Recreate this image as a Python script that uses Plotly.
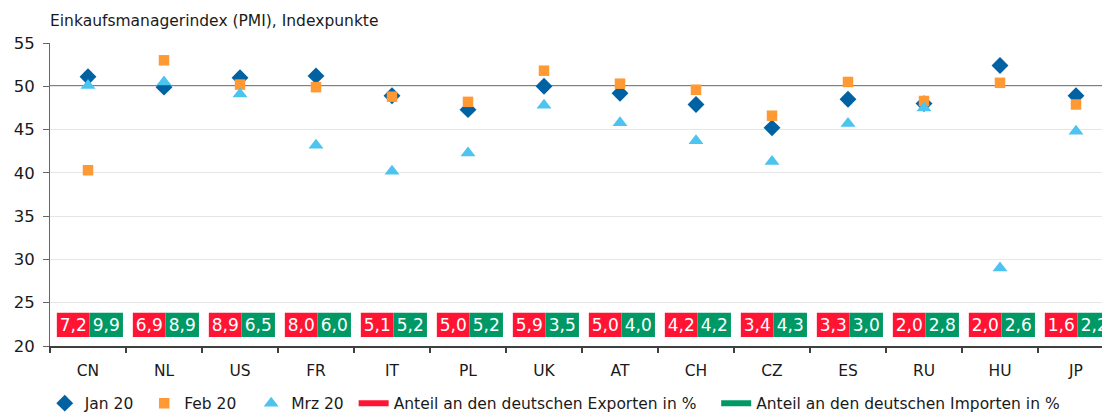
import plotly.graph_objects as go

# ---------------- data ----------------
countries = ["CN", "NL", "US", "FR", "IT", "PL", "UK", "AT", "CH", "CZ", "ES", "RU", "HU", "JP"]
pmi_jan = [51.1, 49.9, 51.0, 51.2, 48.9, 47.3, 50.0, 49.2, 47.9, 45.2, 48.5, 48.0, 52.4, 48.9]
pmi_feb = [40.3, 53.0, 50.2, 49.9, 48.8, 48.2, 51.8, 50.3, 49.6, 46.6, 50.5, 48.3, 50.4, 47.9]
pmi_mrz = [50.1, 50.5, 49.1, 43.2, 40.2, 42.3, 47.8, 45.8, 43.7, 41.3, 45.7, 47.5, 29.0, 44.8]
export_share = [7.2, 6.9, 8.9, 8.0, 5.1, 5.0, 5.9, 5.0, 4.2, 3.4, 3.3, 2.0, 2.0, 1.6]
import_share = [9.9, 8.9, 6.5, 6.0, 5.2, 5.2, 3.5, 4.0, 4.2, 4.3, 3.0, 2.8, 2.6, 2.2]
y_ticks = [20, 25, 30, 35, 40, 45, 50, 55]

series_names = ["Jan 20", "Feb 20", "Mrz 20"]
export_name = "Anteil an den deutschen Exporten in %"
import_name = "Anteil an den deutschen Importen in %"
title_text = "Einkaufsmanagerindex (PMI), Indexpunkte"

# ---------------- style ----------------
FONT = "DejaVu Sans"
TXT = "#1a1a1a"
C_JAN = "#0061a3"
C_FEB = "#ff9933"
C_MRZ = "#4dc3f0"
C_RED = "#ff1433"
C_GREEN = "#009966"
BOX_BASE = 21.04
BOX_HEIGHT = 2.81
PAD = "\u00a0"


def fmt(v):
    return f"{v:.1f}".replace(".", ",")


fig = go.Figure()

# value boxes (exports red / imports green)
fig.add_trace(go.Bar(
    x=countries, y=[BOX_HEIGHT] * len(countries), base=BOX_BASE,
    offset=-0.41, width=0.43,
    marker=dict(color=C_RED, line=dict(width=0)),
    text=[fmt(v) for v in export_share], textposition="inside",
    insidetextanchor="middle", textangle=0,
    textfont=dict(family=FONT, size=17, color="white"),
    showlegend=False, hoverinfo="skip",
))
fig.add_trace(go.Bar(
    x=countries, y=[BOX_HEIGHT] * len(countries), base=BOX_BASE,
    offset=0.02, width=0.44,
    marker=dict(color=C_GREEN, line=dict(width=0)),
    text=[fmt(v) for v in import_share], textposition="inside",
    insidetextanchor="middle", textangle=0,
    textfont=dict(family=FONT, size=17, color="white"),
    showlegend=False, hoverinfo="skip",
))

# PMI markers
fig.add_trace(go.Scatter(x=countries, y=pmi_jan, mode="markers", name=series_names[0] + PAD,
                         marker=dict(symbol="diamond", size=13, color=C_JAN)))
fig.add_trace(go.Scatter(x=countries, y=pmi_feb, mode="markers", name=series_names[1] + PAD * 2,
                         marker=dict(symbol="square", size=10.5, color=C_FEB)))
fig.add_trace(go.Scatter(x=countries, y=pmi_mrz, mode="markers", name=series_names[2] + PAD,
                         marker=dict(symbol="triangle-up", size=13, color=C_MRZ)))

# legend entries for the boxes
fig.add_trace(go.Scatter(x=[None], y=[None], mode="lines", name=export_name + PAD * 3,
                         line=dict(color=C_RED, width=6)))
fig.add_trace(go.Scatter(x=[None], y=[None], mode="lines", name=import_name,
                         line=dict(color=C_GREEN, width=6)))

# reference line at 50
fig.add_shape(type="line", xref="paper", x0=0, x1=1, yref="y", y0=50, y1=50,
              line=dict(color="black", width=1.5), layer="between")

fig.add_annotation(text=title_text, xref="paper", yref="paper", x=0, y=1,
                   xanchor="left", yanchor="middle", xshift=-2, yshift=22,
                   showarrow=False, font=dict(family=FONT, size=15.5, color=TXT))

fig.update_layout(
    width=1102, height=414,
    margin=dict(l=50, r=0, t=43, b=68, autoexpand=False),
    paper_bgcolor="white", plot_bgcolor="white",
    barmode="overlay",
    uniformtext=dict(minsize=17, mode="show"),
    font=dict(family=FONT, size=15.5, color=TXT),
    showlegend=True,
    legend=dict(orientation="h", x=-0.005, xanchor="left", y=-0.19, yanchor="middle",
                font=dict(family=FONT, size=15.5, color=TXT), bgcolor="rgba(0,0,0,0)",
                traceorder="normal"),
)

fig.update_xaxes(
    type="category", categoryorder="array", categoryarray=countries,
    range=[-0.5, -0.5 + 1052 / 76],
    showline=True, linecolor="#404040", linewidth=1.5,
    ticks="outside", tickson="boundaries", ticklen=5, tickcolor="#404040", tickwidth=1.5,
    ticklabelstandoff=10,
    showgrid=False, zeroline=False,
    tickfont=dict(family=FONT, size=15.5, color=TXT),
)
fig.update_yaxes(
    range=[20, 55], tickvals=y_ticks,
    showline=True, linecolor="#666666", linewidth=1,
    ticks="outside", ticklen=6, tickcolor="#666666",
    ticklabelstandoff=5,
    showgrid=True, gridcolor="#e6e6e6", gridwidth=1.3, zeroline=False,
    tickfont=dict(family=FONT, size=16.5, color=TXT),
)

fig.write_html("out.html")
